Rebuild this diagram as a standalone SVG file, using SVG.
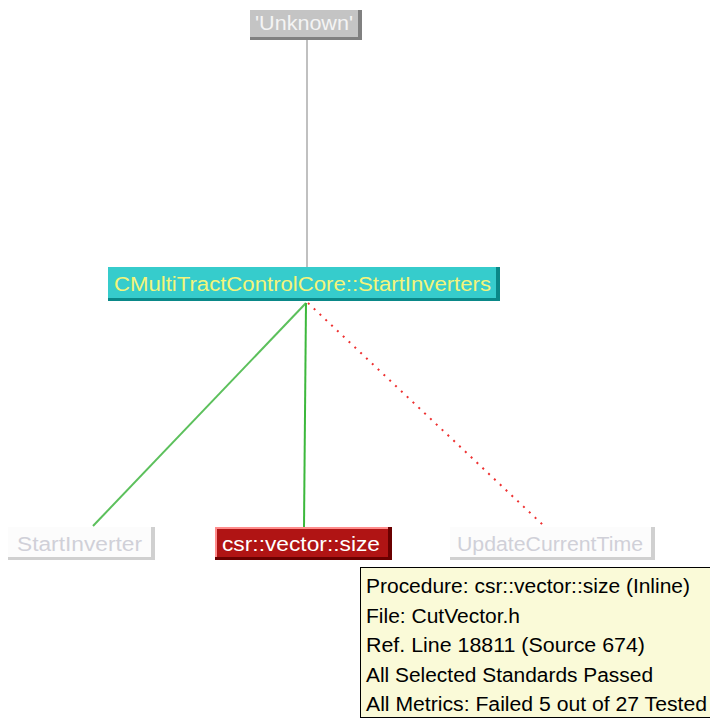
<svg xmlns="http://www.w3.org/2000/svg" width="710" height="719" viewBox="0 0 710 719">
<style>
text{font-family:"Liberation Sans",Arial,sans-serif;}
.lbl{font-size:20px;}
.tip{font-size:20px;fill:#000;}
</style>
<rect width="710" height="719" fill="#fff"/>
<g id="connectors" fill="none">
<line x1="307" y1="40" x2="307" y2="267" stroke="#c0c0c0" stroke-width="2"/>
<line x1="306" y1="303" x2="93" y2="526" stroke="#5cc05c" stroke-width="2"/>
<line x1="306" y1="303" x2="304" y2="527" stroke="#3cb83c" stroke-width="2"/>
<line x1="308" y1="303" x2="543" y2="525" stroke="#ee3030" stroke-width="2" stroke-dasharray="2 6"/>
</g>
<g id="node-unknown">
<rect x="250" y="10" width="112" height="30" fill="#808080"/>
<rect x="250" y="10" width="108" height="27" fill="#c4c4c4"/>
<text class="lbl" x="304" y="30" text-anchor="middle" fill="#f4f4f4" textLength="98" lengthAdjust="spacingAndGlyphs">'Unknown'</text>
</g>
<g id="node-main">
<rect x="108" y="267" width="392" height="34" fill="#0a8888"/>
<rect x="108" y="267" width="388" height="31" fill="#36cccc"/>
<text class="lbl" x="114" y="291" fill="#f4f47a" textLength="377" lengthAdjust="spacingAndGlyphs">CMultiTractControlCore::StartInverters</text>
</g>
<g id="node-startinverter">
<rect x="8" y="527" width="147" height="33" fill="#d0d0d0"/>
<rect x="8" y="527" width="143" height="30" fill="#fcfcfc"/>
<text class="lbl" x="17" y="551" fill="#d0d0d8" textLength="125" lengthAdjust="spacingAndGlyphs">StartInverter</text>
</g>
<g id="node-size">
<rect x="215" y="527" width="177" height="33" fill="#6a0000"/>
<rect x="215" y="527" width="173" height="30" fill="#ff8c8c"/>
<rect x="217" y="529" width="171" height="28" fill="#b01414"/>
<text class="lbl" x="222" y="551" fill="#ffffff" textLength="158" lengthAdjust="spacingAndGlyphs">csr::vector::size</text>
</g>
<g id="node-updatecurrenttime">
<rect x="450" y="527" width="205" height="33" fill="#d0d0d0"/>
<rect x="450" y="527" width="201" height="30" fill="#fcfcfc"/>
<text class="lbl" x="457" y="551" fill="#d0d0d8" textLength="186" lengthAdjust="spacingAndGlyphs">UpdateCurrentTime</text>
</g>
<g id="tooltip">
<rect x="360.5" y="567.5" width="352" height="150" fill="#fafad8" stroke="#000" stroke-width="1"/>
<text class="tip" x="366" y="593" textLength="324" lengthAdjust="spacingAndGlyphs">Procedure: csr::vector::size (Inline)</text>
<text class="tip" x="366" y="623" textLength="154" lengthAdjust="spacingAndGlyphs">File: CutVector.h</text>
<text class="tip" x="366" y="652" textLength="279" lengthAdjust="spacingAndGlyphs">Ref. Line 18811 (Source 674)</text>
<text class="tip" x="366" y="682" textLength="287" lengthAdjust="spacingAndGlyphs">All Selected Standards Passed</text>
<text class="tip" x="366" y="711" textLength="341" lengthAdjust="spacingAndGlyphs">All Metrics: Failed 5 out of 27 Tested</text>
</g>
</svg>
